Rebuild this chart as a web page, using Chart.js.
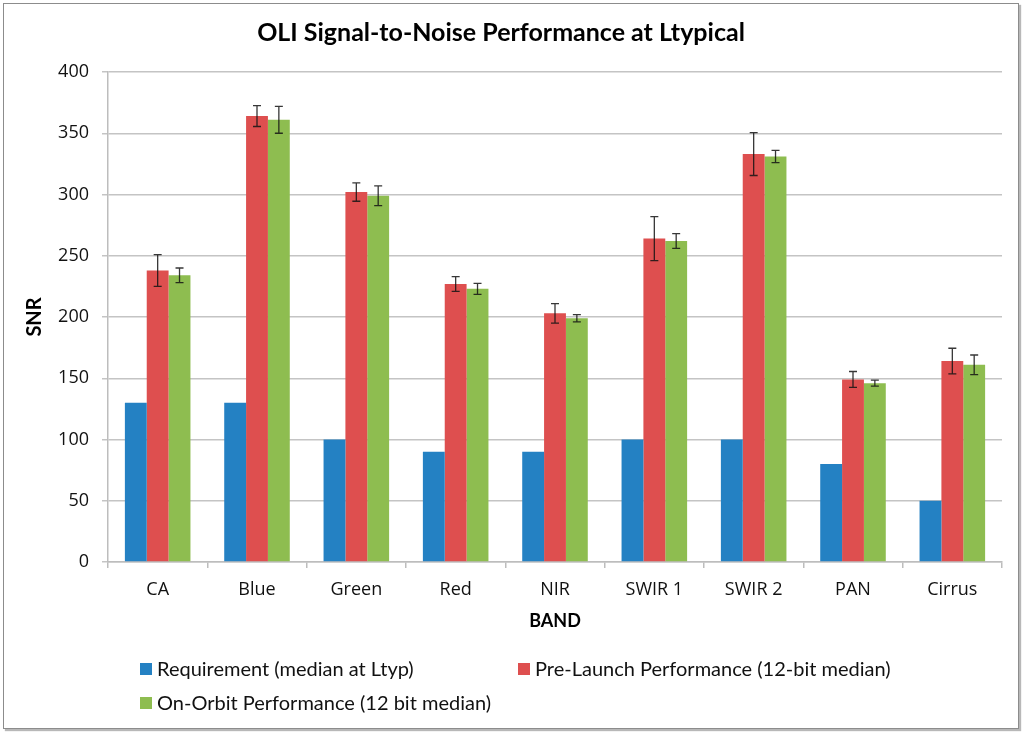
<!DOCTYPE html>
<html>
<head>
<meta charset="utf-8">
<script src="https://cdn.jsdelivr.net/npm/chart.js@4.4.1/dist/chart.umd.min.js"></script>
<style>
  body { margin: 0; background: #fff; }
  #wrap { position: relative; width: 1024px; height: 732px; }
  #frame { position: absolute; left: 3px; top: 3px; width: 1014px; height: 724px;
           border: 1px solid #8c8c8c; box-shadow: 2px 2px 1px #b8b8b8; pointer-events: none; }
</style>
</head>
<body>
<div id="wrap">
  <canvas id="snr" width="1024" height="732"></canvas>
  <div id="frame"></div>
</div>
<script>
// bands and SNR values
const bands = ['CA', 'Blue', 'Green', 'Red', 'NIR', 'SWIR 1', 'SWIR 2', 'PAN', 'Cirrus'];
const requirement = [130, 130, 100, 90, 90, 100, 100, 80, 50];
const preLaunch = [238, 364, 302, 227, 203, 264, 333, 149, 164];
const preLaunchErr = [13, 8.5, 7.5, 6, 8, 18, 17.5, 6.5, 10.5];
const onOrbit = [234, 361, 299, 223, 199, 262, 331, 146, 161];
const onOrbitErr = [6, 11, 8, 4.5, 3, 6, 5, 2.5, 8];
const yTicks = [0, 50, 100, 150, 200, 250, 300, 350, 400];

const errorBars = {
    id: 'errorBars',
    afterDatasetsDraw(chart) {
        const ctx = chart.ctx;
        const y = chart.scales.y;
        ctx.save();
        ctx.strokeStyle = 'rgba(20,20,20,0.85)';
        ctx.lineWidth = 1.3;
        chart.data.datasets.forEach((ds, i) => {
            if (!ds.errors) return;
            chart.getDatasetMeta(i).data.forEach((bar, j) => {
                const top = y.getPixelForValue(ds.data[j] + ds.errors[j]);
                const bot = y.getPixelForValue(ds.data[j] - ds.errors[j]);
                ctx.beginPath();
                ctx.moveTo(bar.x, top); ctx.lineTo(bar.x, bot);
                ctx.moveTo(bar.x - 4, top); ctx.lineTo(bar.x + 4, top);
                ctx.moveTo(bar.x - 4, bot); ctx.lineTo(bar.x + 4, bot);
                ctx.stroke();
            });
        });
        ctx.restore();
    }
};

// legend laid out in two columns like the original
const boxLegend = {
    id: 'boxLegend',
    afterDraw(chart) {
        const ctx = chart.ctx;
        const spots = [[140, 669], [518, 669], [140, 703]];
        ctx.save();
        ctx.font = '20px Lato';
        ctx.textBaseline = 'middle';
        chart.data.datasets.forEach((ds, i) => {
            const [x, yy] = spots[i];
            ctx.fillStyle = ds.backgroundColor;
            ctx.fillRect(x, yy - 6, 12, 12);
            ctx.fillStyle = '#111';
            ctx.fillText(ds.label, x + 17, yy + 1);
        });
        ctx.restore();
    }
};

const ctx = document.getElementById('snr').getContext('2d');
const snrChart = new Chart(ctx, {
    type: 'bar',
    data: {
        labels: bands,
        datasets: [{
            label: 'Requirement (median at Ltyp)',
            data: requirement,
            backgroundColor: '#2481c3'
        }, {
            label: 'Pre-Launch Performance (12-bit median)',
            data: preLaunch,
            errors: preLaunchErr,
            backgroundColor: '#de4f4f'
        }, {
            label: 'On-Orbit Performance (12 bit median)',
            data: onOrbit,
            errors: onOrbitErr,
            backgroundColor: '#8ebd50'
        }]
    },
    options: {
        responsive: false,
        animation: false,
        categoryPercentage: 0.66,
        barPercentage: 1.0,
        layout: { padding: { left: 0, right: 22, top: 0, bottom: 95 } },
        plugins: {
            legend: { display: false },
            tooltip: { enabled: false },
            title: {
                display: true,
                text: 'OLI Signal-to-Noise Performance at Ltypical',
                color: '#000',
                font: { family: 'Lato', size: 25, weight: 'bold' },
                padding: { top: 18, bottom: 24 }
            }
        },
        scales: {
            x: {
                afterFit(scale) { scale.height = 75; },
                grid: { display: true, drawOnChartArea: false, drawTicks: true, tickLength: 6, color: '#bdbdbd', lineWidth: 1.5 },
                border: { color: '#bdbdbd', width: 1.5 },
                ticks: { color: '#111', padding: 11, font: { family: 'Open Sans', size: 18 } },
                title: {
                    display: true, text: 'BAND', color: '#000',
                    font: { family: 'Lato', size: 18, weight: 'bold' },
                    padding: { top: 0, bottom: 5 }
                }
            },
            y: {
                min: 0, max: 400,
                afterFit(scale) { scale.width = 108; },
                afterBuildTicks(scale) { scale.ticks = yTicks.map(v => ({ value: v })); },
                grid: { color: '#c4c4c4', lineWidth: 1.5, tickLength: 6 },
                border: { color: '#bdbdbd', width: 1.5 },
                ticks: { color: '#111', padding: 13, font: { family: 'Open Sans', size: 18 } },
                title: {
                    display: true, text: 'SNR', color: '#000',
                    font: { family: 'Lato', size: 20, weight: 'bold' },
                    padding: { top: 23, bottom: 0 }
                }
            }
        }
    },
    plugins: [errorBars, boxLegend]
});
</script>
</body>
</html>
